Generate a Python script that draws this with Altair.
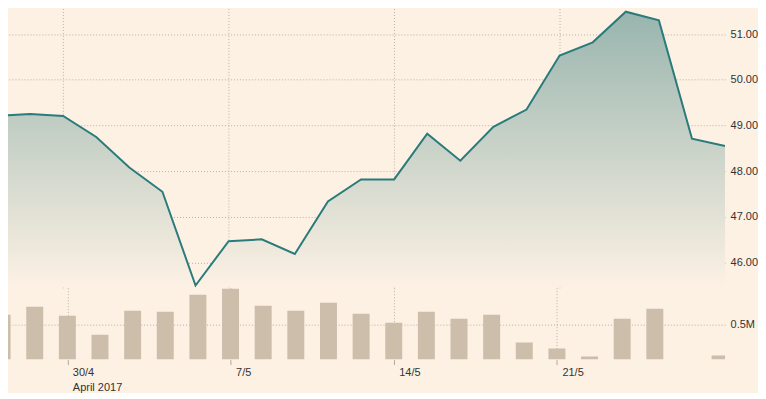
import altair as alt
import pandas as pd

# trading-session index (evenly spaced on the axis)
day_index = list(range(23))
price = [49.21, 49.25, 49.21, 48.75, 48.08, 47.55, 45.50, 46.47, 46.51, 46.19,
         47.34, 47.82, 47.82, 48.82, 48.23, 48.97, 49.35, 50.53, 50.82, 51.49,
         51.30, 48.71, 48.55]
volume_m = [0.643, 0.757, 0.629, 0.357, 0.700, 0.686, 0.929, 1.014, 0.771, 0.700,
            0.814, 0.657, 0.529, 0.686, 0.586, 0.643, 0.243, 0.157, 0.043, 0.586,
            0.729, 0.0, 0.057]
tick_index = [2, 7, 12, 17]
tick_text = ["30/4", "7/5", "14/5", "21/5"]
month_text = "April 2017"
price_ticks = [46, 47, 48, 49, 50, 51]
volume_ticks = [0.5]

df = pd.DataFrame({"i": day_index, "price": price, "volume": volume_m})

BG = "#fdf1e4"
GRID = "#bcb0a4"
TEXT = "#333333"
FONT = "Liberation Sans"

x_domain = [0.334, 22]
p_domain = [45.45, 51.56]
v_domain = [0, 1.0286]

# label expression built from tick lists
parts = []
for k, (ti, tt) in enumerate(zip(tick_index, tick_text)):
    if k == 0:
        parts.append(f"datum.value == {ti} ? ['{tt}', '{month_text}']")
    else:
        parts.append(f"datum.value == {ti} ? '{tt}'")
label_expr = " : ".join(parts) + " : ''"

x_top = alt.X("i:Q", scale=alt.Scale(domain=x_domain, nice=False, zero=False),
              axis=alt.Axis(values=tick_index, labels=False, ticks=False, domain=False,
                            grid=True, gridDash=[1, 2], gridColor=GRID, title=None))
x_bot = alt.X("i:Q", scale=alt.Scale(domain=x_domain, nice=False, zero=False),
              axis=alt.Axis(values=tick_index, labelExpr=label_expr, ticks=True, tickSize=5,
                            tickColor="#b5a99d", domain=False, grid=True, gridDash=[1, 2],
                            gridColor=GRID, title=None, labelAlign="left", labelOffset=5,
                            labelBaseline="top", labelPadding=2, labelLineHeight=15,
                            labelFlush=False, labelOverlap=False, labelBound=False,
                            labelFontSize=11, labelColor=TEXT, labelFont=FONT))

y_price = alt.Y("price:Q", scale=alt.Scale(domain=p_domain, nice=False, zero=False),
                axis=alt.Axis(orient="right", values=price_ticks, format=".2f", ticks=False,
                              domain=False, grid=True, gridDash=[1, 2], gridColor=GRID,
                              labelPadding=5, labelFontSize=11, labelColor=TEXT, labelFont=FONT,
                              labelAlign="left", title=None))

gradient = alt.Gradient(
    gradient="linear",
    stops=[alt.GradientStop(color="#98b5ae", offset=0),
           alt.GradientStop(color=BG, offset=1)],
    x1=1, x2=1, y1=0, y2=1,
)

base = alt.Chart(df)
area = base.mark_area(clip=True, color=gradient).encode(
    x=x_top, y=y_price, y2=alt.datum(p_domain[0]))
line = base.mark_line(clip=True, color="#2a7b7b", strokeWidth=2).encode(
    x=x_top, y="price:Q")
price_chart = alt.layer(area, line).properties(width=719, height=280)

vol_chart = base.mark_bar(clip=True, size=17, color="#cdbdab").encode(
    x=x_bot,
    y=alt.Y("volume:Q", scale=alt.Scale(domain=v_domain, nice=False, zero=True),
            axis=alt.Axis(orient="right", values=volume_ticks,
                          labelExpr="format(datum.value, '.1f') + 'M'", ticks=False,
                          domain=False, grid=True, gridDash=[1, 2], gridColor=GRID,
                          labelPadding=5, labelFontSize=11, labelColor=TEXT, labelFont=FONT,
                          labelAlign="left", title=None)),
).properties(width=719, height=72)

chart = alt.vconcat(price_chart, vol_chart, spacing=0).properties(
    padding=0, background=BG
).configure_view(stroke=None).configure_concat(spacing=0)

chart.save("out.html", embed_options={"renderer": "svg", "actions": False})
